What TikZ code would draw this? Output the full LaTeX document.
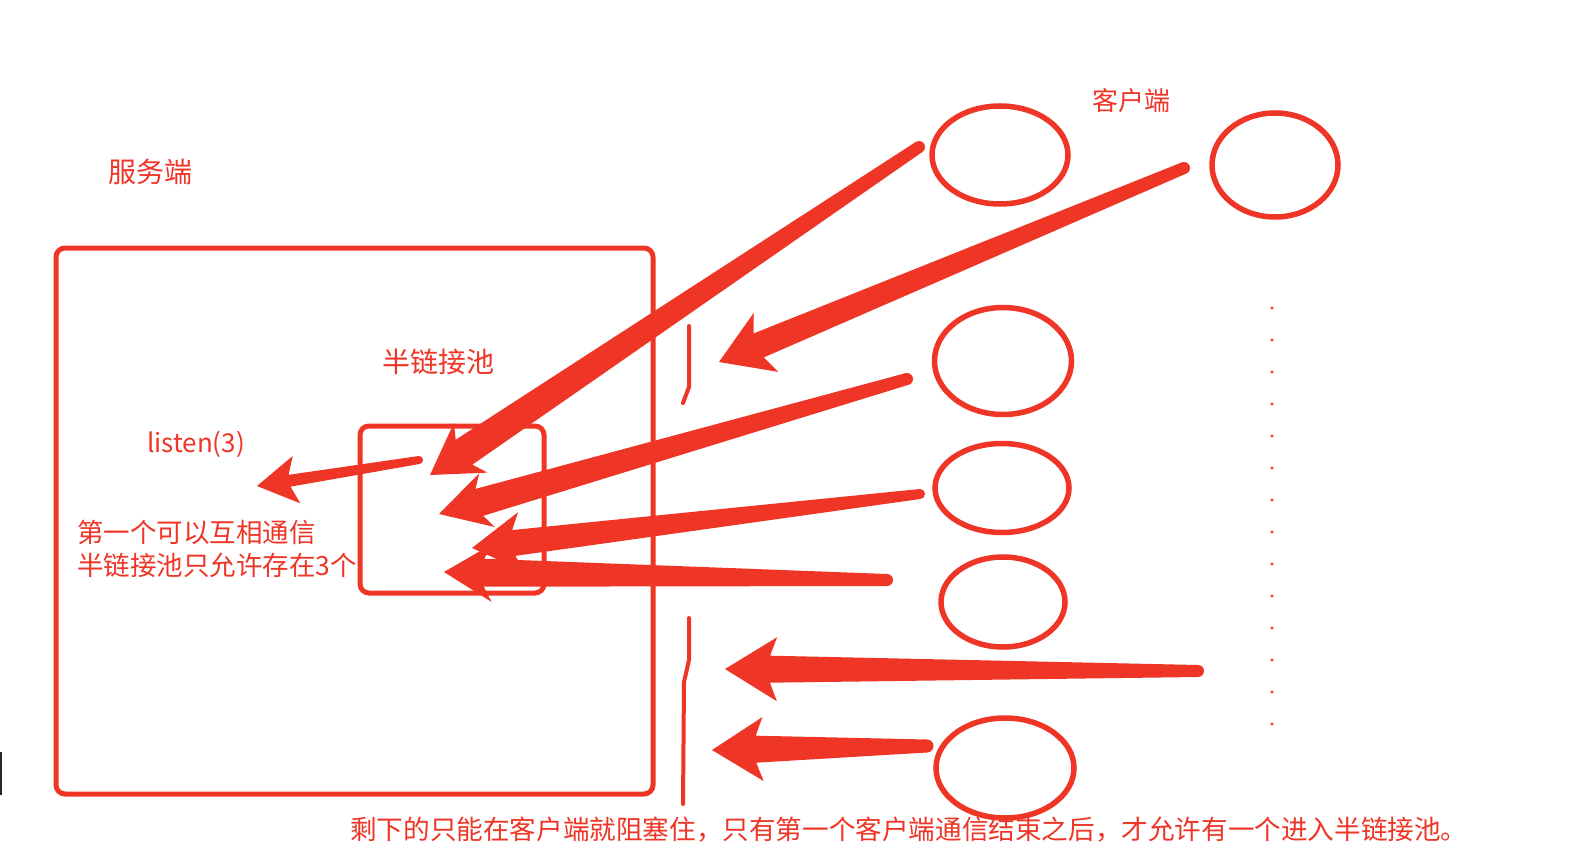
\documentclass[tikz,border=0pt]{standalone}
\usepackage{fontspec}
\setmainfont{Noto Sans CJK SC}
\usetikzlibrary{calc,shapes.geometric}
\definecolor{pen}{HTML}{EE3526}
\tikzset{
  client/.style={draw=pen, line width=5.5pt, ellipse, inner sep=0pt},
  frame/.style={draw=pen, line width=5pt, rounded corners=9pt},
  lbl/.style={text=pen, font=\fontsize{26pt}{31pt}\selectfont, inner sep=0pt},
  biglbl/.style={lbl, font=\fontsize{28pt}{33pt}\selectfont},
  wall/.style={draw=pen, line width=4pt, line cap=round, line join=round},
}
% #1 tail, #2 tip, #3 tail half width, #4 shaft half width at head,
% #5 head length, #6 head half width, #7 distance tip->shaft joint
\newcommand\fatarrow[7]{%
  \coordinate (fah) at ($(#2)!#5!(#1)$);
  \coordinate (fab) at ($(#2)!#7!(#1)$);
  \fill[pen] ($(#1)!#3!90:(#2)$) -- ($(fab)!#4!90:(#2)$) -- ($(fah)!#6!90:(#2)$)
    -- (#2) -- ($(fah)!#6!-90:(#2)$) -- ($(fab)!#4!-90:(#2)$)
    -- ($(#1)!#3!-90:(#2)$) -- cycle;
  \fill[pen] (#1) circle (#3);
}
\begin{document}
\begin{tikzpicture}[x=1pt,y=-1pt]
\useasboundingbox (0,0) rectangle (1574,864);
\fill[white] (0,0) rectangle (1574,864);
% cursor mark at left
\fill[black!85] (0,752) rectangle (2,795);

% server frame and half-connection pool
\draw[frame] (56,248) rectangle (653,794);
\draw[frame] (360,426) rectangle (544,593);

% labels
\node[biglbl] (server) at (150,172) {服务端};
\node[lbl] (clientlbl) at (1131,101) {客户端};
\node[biglbl] (pool) at (438,362) {半链接池};
\node[lbl] (listen) at (196,444) {listen(3)};
\node[lbl, anchor=west, font=\fontsize{26.5pt}{31pt}\selectfont] (note1) at (77,532) {第一个可以互相通信};
\node[lbl, anchor=west, font=\fontsize{26.5pt}{31pt}\selectfont] (note2) at (77,565) {半链接池只允许存在3个};
\node[lbl, anchor=west, font=\fontsize{26.6pt}{31pt}\selectfont] (bottom) at (350,830) {剩下的只能在客户端就阻塞住，只有第一个客户端通信结束之后，才允许有一个进入半链接池。};

% clients
\node[client, minimum width=136pt, minimum height=98pt] (c1) at (1000,155) {};
\node[client, minimum width=126pt, minimum height=104pt] (c2) at (1275,165) {};
\node[client, minimum width=137pt, minimum height=107pt] (c3) at (1003,361) {};
\node[client, minimum width=134pt, minimum height=89pt] (c4) at (1002,488) {};
\node[client, minimum width=124pt, minimum height=90pt] (c5) at (1003,602) {};
\node[client, minimum width=138pt, minimum height=100pt] (c6) at (1005,768) {};

% dots
\foreach \k in {0,...,13} {
  \fill[pen] (1272,{308+32*\k}) circle (1.6pt);
}

% blocking walls
\coordinate (w1a) at (689,326);
\coordinate (w1b) at (689,387);
\coordinate (w1c) at (683,403);
\draw[wall] (w1a) -- (w1b) -- (w1c);
\coordinate (w2a) at (689,618);
\coordinate (w2b) at (689,660);
\coordinate (w2c) at (684,682);
\coordinate (w2d) at (683,804);
\draw[wall] (w2a) -- (w2b) -- (w2c) -- (w2d);

% arrow end points
\coordinate (a1t) at (919,147);  \coordinate (a1h) at (430,475);
\coordinate (a2t) at (1184,168); \coordinate (a2h) at (719,362);
\coordinate (a3t) at (907,379);  \coordinate (a3h) at (439,514);
\coordinate (a4t) at (920,494);  \coordinate (a4h) at (472,548);
\coordinate (a5t) at (887,580);  \coordinate (a5h) at (444,572);
\coordinate (a6t) at (1198,671); \coordinate (a6h) at (725,669);
\coordinate (a7t) at (927,746);  \coordinate (a7h) at (712,750);
\coordinate (a8t) at (419,460);  \coordinate (a8h) at (257,486);

\fatarrow{a1t}{a1h}{6pt}{15pt}{49pt}{30pt}{41pt}
\fatarrow{a2t}{a2h}{6pt}{13pt}{51pt}{32pt}{43pt}
\fatarrow{a3t}{a3h}{6pt}{14pt}{50pt}{28pt}{42pt}
\fatarrow{a4t}{a4h}{5pt}{13pt}{50pt}{30pt}{42pt}
\fatarrow{a5t}{a5h}{6pt}{14pt}{48pt}{29pt}{40pt}
\fatarrow{a6t}{a6h}{6pt}{13.5pt}{52pt}{32pt}{45pt}
\fatarrow{a7t}{a7h}{6.5pt}{13.5pt}{51pt}{32pt}{44pt}
\fatarrow{a8t}{a8h}{4pt}{6pt}{40pt}{24pt}{33pt}
\end{tikzpicture}
\end{document}
